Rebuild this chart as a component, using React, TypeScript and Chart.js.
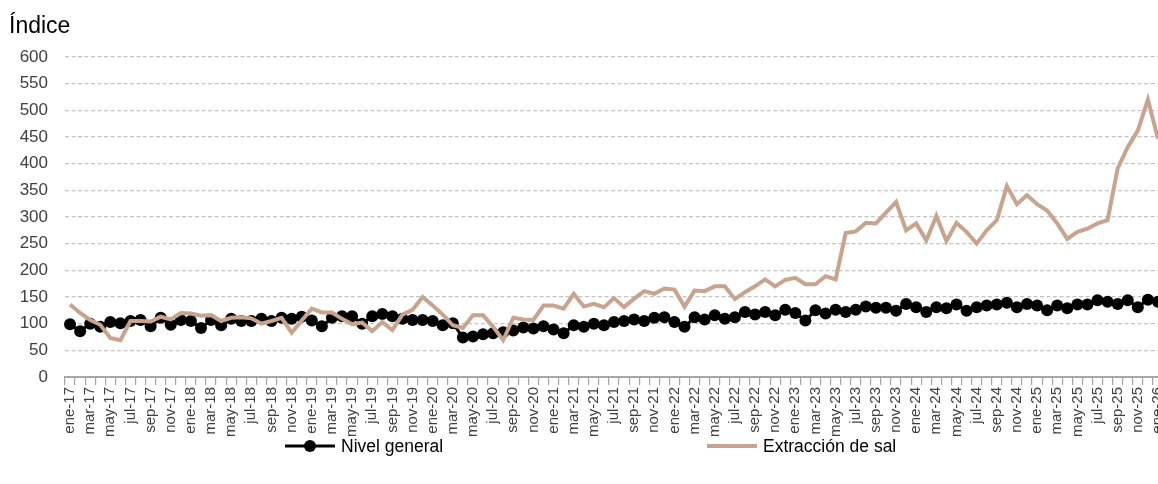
import React, { useEffect, useRef } from 'react';
import { Chart, registerables } from 'chart.js';

Chart.register(...registerables);

const MONTHS = ['ene', 'feb', 'mar', 'abr', 'may', 'jun', 'jul', 'ago', 'sep', 'oct', 'nov', 'dic'];
const YEARS = ['17', '18', '19', '20', '21', '22', '23', '24', '25', '26'];
const CATEGORIES = YEARS.flatMap((y) => MONTHS.map((m) => `${m}-${y}`)).slice(0, 109);

const NIVEL_GENERAL = [
  99, 86, 100, 94, 103, 101, 105, 107, 95, 111, 98, 107,
  105, 92, 107, 97, 109, 105, 105, 109, 105, 111, 109, 113,
  106, 95, 111, 114, 114, 100, 114, 118, 114, 109, 107, 107,
  105, 97, 101, 74, 76, 80, 82, 84, 87, 93, 91, 95,
  89, 82, 97, 94, 100, 97, 103, 105, 108, 105, 111, 112,
  103, 94, 112, 108, 116, 109, 112, 122, 117, 122, 116, 126,
  120, 106, 125, 119, 126, 122, 126, 132, 130, 130, 124, 137,
  131, 122, 131, 129, 136, 124, 131, 134, 136, 139, 131, 137,
  134, 125, 134, 129, 136, 136, 144, 141, 137, 144, 131, 145,
  141,
];

const EXTRACCION_SAL = [
  136, 120, 107, 98, 73, 69, 105, 105, 104, 113, 108, 120,
  119, 115, 116, 105, 111, 112, 110, 100, 105, 111, 83, 106,
  128, 121, 121, 109, 99, 102, 86, 103, 88, 117, 126, 150,
  134, 117, 97, 92, 116, 116, 94, 69, 111, 108, 107, 134,
  134, 128, 156, 132, 137, 131, 148, 131, 147, 161, 156, 166,
  164, 132, 162, 161, 170, 170, 146, 159, 170, 183, 170, 182,
  186, 174, 174, 189, 183, 270, 273, 289, 288, 308, 328, 275,
  288, 256, 302, 255, 289, 272, 250, 275, 294, 358, 324, 341,
  324, 312, 288, 259, 272, 278, 288, 294, 391, 431, 462, 520,
  447,
];

const SERIES_NAMES = ['Nivel general', 'Extracción de sal'];
const SERIES_COLORS = ['#000000', '#c8a48e'];
const Y_TITLE = 'Índice';
const Y_MIN = 0;
const Y_MAX = 600;
const Y_STEP = 50;

const FONT = '"Liberation Sans", Arial, Helvetica, sans-serif';

const overlayPlugin = {
  id: 'overlay',
  afterDraw(chart: any) {
    const ctx = chart.ctx as CanvasRenderingContext2D;
    ctx.save();
    ctx.fillStyle = '#000';
    ctx.textAlign = 'left';
    ctx.textBaseline = 'middle';
    ctx.font = `23px ${FONT}`;
    ctx.fillText(Y_TITLE, 9, 27);

    const ly = 446;
    const items = [
      { x: 285, name: SERIES_NAMES[0], color: SERIES_COLORS[0], w: 3, dot: true },
      { x: 707, name: SERIES_NAMES[1], color: SERIES_COLORS[1], w: 4, dot: false },
    ];
    ctx.font = `17.5px ${FONT}`;
    for (const it of items) {
      ctx.strokeStyle = it.color;
      ctx.lineWidth = it.w;
      ctx.beginPath();
      ctx.moveTo(it.x, ly);
      ctx.lineTo(it.x + 50, ly);
      ctx.stroke();
      if (it.dot) {
        ctx.fillStyle = it.color;
        ctx.beginPath();
        ctx.arc(it.x + 25, ly, 6, 0, Math.PI * 2);
        ctx.fill();
      }
      ctx.fillStyle = '#000';
      ctx.fillText(it.name, it.x + 56, ly + 1);
    }
    ctx.restore();
  },
};

export default function App() {
  const ref = useRef<HTMLCanvasElement | null>(null);

  useEffect(() => {
    if (!ref.current) return;
    const chart = new Chart(ref.current, {
      type: 'line',
      data: {
        labels: CATEGORIES,
        datasets: [
          {
            label: SERIES_NAMES[0],
            data: NIVEL_GENERAL,
            borderColor: SERIES_COLORS[0],
            backgroundColor: SERIES_COLORS[0],
            borderWidth: 3,
            pointRadius: 6,
            pointBorderWidth: 0,
            pointBackgroundColor: SERIES_COLORS[0],
            tension: 0,
            order: 2,
          },
          {
            label: SERIES_NAMES[1],
            data: EXTRACCION_SAL,
            borderColor: SERIES_COLORS[1],
            backgroundColor: SERIES_COLORS[1],
            borderWidth: 4,
            pointRadius: 0,
            tension: 0,
            order: 1,
          },
        ],
      },
      options: {
        responsive: false,
        animation: false,
        devicePixelRatio: 1,
        layout: { padding: { top: 57, left: 0, right: 10, bottom: 0 } },
        plugins: {
          legend: { display: false },
          title: { display: false },
          tooltip: { enabled: false },
        },
        scales: {
          x: {
            type: 'category',
            offset: true,
            afterFit(scale: any) {
              scale.height = 107;
            },
            grid: {
              display: true,
              drawOnChartArea: false,
              drawTicks: true,
              tickLength: 8,
              offset: true,
              color: '#a6a6a6',
              lineWidth: 1.2,
            },
            border: { display: true, color: '#a6a6a6', width: 2 },
            ticks: {
              autoSkip: false,
              minRotation: 90,
              maxRotation: 90,
              padding: 2,
              color: '#404040',
              font: { family: FONT, size: 15 },
              callback: (_v: any, i: number) => (i % 2 === 0 ? CATEGORIES[i] : ''),
            },
          },
          y: {
            min: Y_MIN,
            max: Y_MAX,
            afterFit(scale: any) {
              scale.width = 65;
            },
            grid: {
              drawTicks: false,
              color: (c: any) => (c.tick && c.tick.value === 0 ? 'rgba(0,0,0,0)' : '#c4c4c4'),
              lineWidth: 1.3,
            },
            border: { display: false, dash: [4, 2.5] },
            ticks: {
              stepSize: Y_STEP,
              padding: 17,
              color: '#404040',
              font: { family: FONT, size: 17 },
            },
          },
        },
      },
      plugins: [overlayPlugin],
    });
    return () => chart.destroy();
  }, []);

  return (
    <div style={{ position: 'fixed', left: 0, top: 0, width: 1158, height: 484, overflow: 'hidden', background: '#fff' }}>
      <canvas ref={ref} width={1178} height={484} style={{ width: 1178, height: 484, display: 'block' }} />
    </div>
  );
}
